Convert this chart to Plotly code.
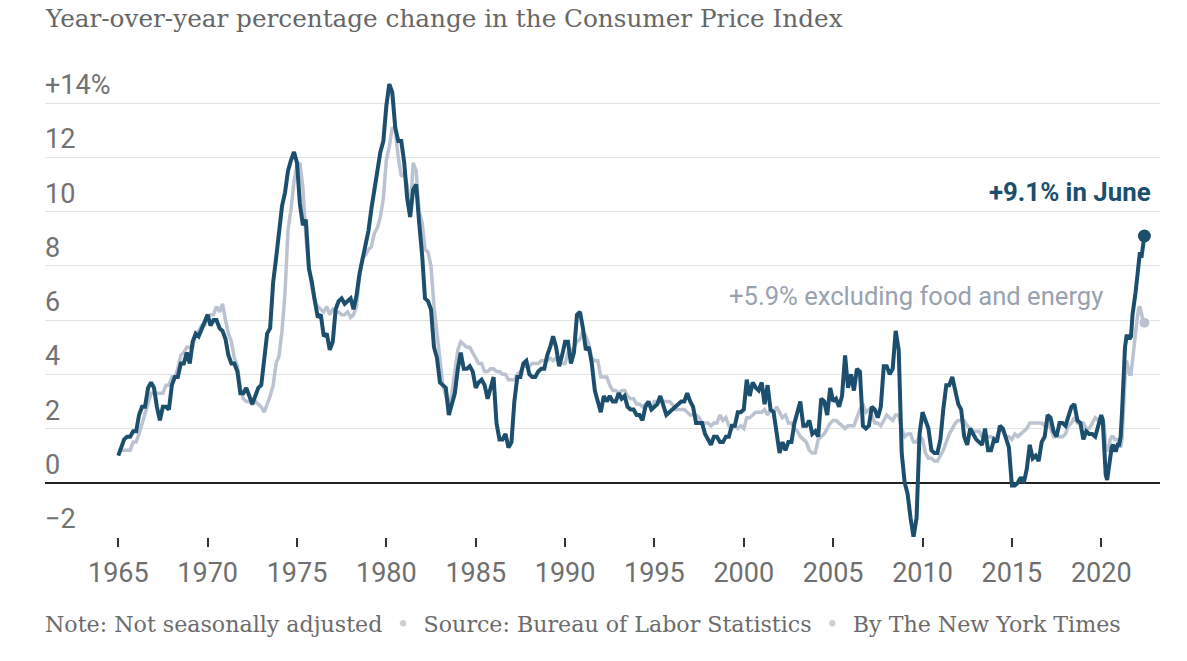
import plotly.graph_objects as go

# ---------------- data (year-over-year % change) ----------------
# 1965-2019: every other month (Jan, Mar, May, Jul, Sep, Nov); 2020-2022: monthly
years_bimonthly = list(range(1965, 2020))
months_bimonthly = [1, 3, 5, 7, 9, 11]

cpi_all_items = [
    1.0, 1.3, 1.6, 1.7, 1.7, 1.9,      # 1965
    1.9, 2.5, 2.8, 2.8, 3.5, 3.7,      # 1966
    3.5, 2.8, 2.3, 2.8, 2.8, 2.7,      # 1967
    3.6, 3.9, 3.9, 4.4, 4.4, 4.8,      # 1968
    4.4, 5.2, 5.5, 5.4, 5.7, 5.9,      # 1969
    6.2, 5.8, 6.0, 6.0, 5.7, 5.6,      # 1970
    5.3, 4.7, 4.4, 4.4, 4.1, 3.3,      # 1971
    3.3, 3.5, 3.2, 2.9, 3.2, 3.5,      # 1972
    3.6, 4.6, 5.5, 5.7, 7.4, 8.3,      # 1973
    9.4, 10.2, 10.7, 11.5, 11.9, 12.2, # 1974
    11.8, 10.3, 9.5, 9.7, 7.9, 7.4,    # 1975
    6.7, 6.1, 6.2, 5.4, 5.5, 4.9,      # 1976
    5.2, 6.4, 6.7, 6.8, 6.6, 6.7,      # 1977
    6.8, 6.4, 6.9, 7.7, 8.3, 8.9,      # 1978
    9.3, 10.1, 10.8, 11.3, 12.2, 12.6, # 1979
    13.9, 14.7, 14.4, 13.1, 12.6, 12.6,# 1980
    11.8, 10.5, 9.8, 10.8, 11.0, 9.6,  # 1981
    8.4, 6.8, 6.7, 6.4, 5.0, 4.6,      # 1982
    3.7, 3.6, 3.5, 2.5, 2.9, 3.3,      # 1983
    4.2, 4.8, 4.2, 4.2, 4.3, 4.1,      # 1984
    3.5, 3.7, 3.8, 3.6, 3.1, 3.5,      # 1985
    3.9, 2.2, 1.6, 1.6, 1.8, 1.3,      # 1986
    1.5, 3.0, 3.9, 3.9, 4.4, 4.5,      # 1987
    4.0, 3.9, 3.9, 4.1, 4.2, 4.2,      # 1988
    4.7, 5.0, 5.4, 5.0, 4.3, 4.7,      # 1989
    5.2, 5.2, 4.4, 4.8, 6.2, 6.3,      # 1990
    5.7, 4.9, 5.0, 4.4, 3.4, 3.0,      # 1991
    2.6, 3.2, 3.0, 3.2, 3.0, 3.0,      # 1992
    3.3, 3.1, 3.2, 2.8, 2.7, 2.7,      # 1993
    2.5, 2.5, 2.3, 2.8, 3.0, 2.7,      # 1994
    2.8, 2.9, 3.2, 2.8, 2.5, 2.6,      # 1995
    2.7, 2.8, 2.9, 3.0, 3.0, 3.3,      # 1996
    3.0, 2.8, 2.2, 2.2, 2.2, 1.8,      # 1997
    1.6, 1.4, 1.7, 1.7, 1.5, 1.5,      # 1998
    1.7, 1.7, 2.1, 2.1, 2.6, 2.6,      # 1999
    2.7, 3.8, 3.2, 3.7, 3.5, 3.4,      # 2000
    3.7, 2.9, 3.6, 2.7, 2.6, 1.9,      # 2001
    1.1, 1.5, 1.2, 1.5, 1.5, 2.2,      # 2002
    2.6, 3.0, 2.1, 2.1, 2.3, 1.8,      # 2003
    1.9, 1.7, 3.1, 3.0, 2.5, 3.5,      # 2004
    3.0, 3.1, 2.8, 3.2, 4.7, 3.5,      # 2005
    4.0, 3.4, 4.2, 4.1, 2.1, 2.0,      # 2006
    2.1, 2.8, 2.7, 2.4, 2.8, 4.3,      # 2007
    4.3, 4.0, 4.2, 5.6, 4.9, 1.1,      # 2008
    0.0, -0.4, -1.3, -2.0, -1.3, 1.8,  # 2009
    2.6, 2.3, 2.0, 1.2, 1.1, 1.1,      # 2010
    1.6, 2.7, 3.6, 3.6, 3.9, 3.4,      # 2011
    2.9, 2.7, 1.7, 1.4, 2.0, 1.8,      # 2012
    1.6, 1.5, 1.4, 2.0, 1.2, 1.2,      # 2013
    1.6, 1.5, 2.1, 2.0, 1.7, 1.3,      # 2014
    -0.1, -0.1, 0.0, 0.2, 0.0, 0.5,    # 2015
    1.4, 0.9, 1.0, 0.8, 1.5, 1.7,      # 2016
    2.5, 2.4, 1.9, 1.7, 2.2, 2.2,      # 2017
    2.1, 2.4, 2.8, 2.9, 2.3, 2.2,      # 2018
    1.6, 1.9, 1.8, 1.8, 1.7, 2.1,      # 2019
    # monthly from here
    2.5, 2.3, 1.5, 0.3, 0.1, 0.6, 1.0, 1.3, 1.4, 1.2, 1.2, 1.4,  # 2020
    1.4, 1.7, 2.6, 4.2, 5.0, 5.4, 5.4, 5.3, 5.4, 6.2, 6.8, 7.0,  # 2021
    7.5, 7.9, 8.5, 8.3, 8.6, 9.1,                                # 2022 (Jan-Jun)
]

cpi_core = [
    1.2, 1.2, 1.2, 1.2, 1.2, 1.5,      # 1965
    1.5, 1.8, 2.2, 2.6, 3.0, 3.3,      # 1966
    3.3, 3.3, 3.3, 3.3, 3.6, 3.6,      # 1967
    3.9, 3.9, 4.2, 4.7, 4.8, 5.0,      # 1968
    5.0, 5.0, 5.5, 5.6, 5.8, 5.8,      # 1969
    6.1, 6.2, 6.2, 6.5, 6.3, 6.6,      # 1970
    6.0, 5.5, 5.2, 4.6, 4.3, 3.5,      # 1971
    3.1, 3.0, 3.0, 2.9, 3.0, 2.9,      # 1972
    2.8, 2.6, 2.9, 3.2, 3.6, 4.4,      # 1973
    4.7, 5.6, 7.0, 9.3, 10.1, 11.1,    # 1974
    11.7, 11.8, 10.9, 9.1, 8.0, 7.2,   # 1975
    6.7, 6.5, 6.4, 6.3, 6.5, 6.2,      # 1976
    6.4, 6.3, 6.3, 6.2, 6.2, 6.3,      # 1977
    6.1, 6.2, 6.5, 7.6, 8.3, 8.4,      # 1978
    8.6, 8.7, 9.2, 9.4, 9.8, 10.5,     # 1979
    11.9, 12.4, 13.1, 13.0, 12.0, 11.3,# 1980
    11.4, 11.0, 9.8, 11.8, 11.5, 10.0, # 1981
    9.6, 8.6, 8.5, 8.0, 6.5, 5.5,      # 1982
    4.7, 3.6, 3.2, 2.8, 3.3, 4.2,      # 1983
    4.9, 5.2, 5.1, 5.0, 5.0, 4.8,      # 1984
    4.6, 4.4, 4.4, 4.1, 4.1, 4.2,      # 1985
    4.2, 4.1, 4.1, 4.0, 4.0, 3.8,      # 1986
    3.8, 3.8, 4.0, 4.1, 4.3, 4.3,      # 1987
    4.3, 4.4, 4.4, 4.4, 4.5, 4.5,      # 1988
    4.5, 4.6, 4.5, 4.6, 4.4, 4.4,      # 1989
    4.4, 4.8, 4.8, 5.0, 5.2, 5.3,      # 1990
    5.6, 5.4, 5.1, 4.6, 4.5, 4.5,      # 1991
    3.9, 3.9, 3.9, 3.6, 3.4, 3.4,      # 1992
    3.3, 3.4, 3.4, 3.2, 3.1, 3.1,      # 1993
    2.9, 2.9, 2.8, 2.9, 2.9, 2.7,      # 1994
    3.0, 3.0, 3.1, 3.0, 3.0, 3.0,      # 1995
    2.9, 2.7, 2.7, 2.7, 2.7, 2.6,      # 1996
    2.5, 2.5, 2.5, 2.4, 2.2, 2.2,      # 1997
    2.2, 2.1, 2.2, 2.2, 2.5, 2.3,      # 1998
    2.4, 2.1, 2.0, 2.1, 2.0, 2.1,      # 1999
    2.0, 2.4, 2.4, 2.5, 2.6, 2.6,      # 2000
    2.6, 2.7, 2.5, 2.7, 2.6, 2.8,      # 2001
    2.6, 2.4, 2.5, 2.2, 2.2, 2.0,      # 2002
    1.9, 1.7, 1.6, 1.5, 1.2, 1.1,      # 2003
    1.1, 1.6, 1.7, 1.8, 2.0, 2.2,      # 2004
    2.3, 2.3, 2.2, 2.1, 2.0, 2.1,      # 2005
    2.1, 2.1, 2.4, 2.7, 2.9, 2.6,      # 2006
    2.7, 2.5, 2.2, 2.2, 2.1, 2.3,      # 2007
    2.5, 2.4, 2.3, 2.5, 2.5, 2.0,      # 2008
    1.7, 1.8, 1.8, 1.5, 1.5, 1.7,      # 2009
    1.6, 1.1, 0.9, 0.9, 0.8, 0.8,      # 2010
    1.0, 1.2, 1.5, 1.8, 2.0, 2.2,      # 2011
    2.3, 2.3, 2.3, 2.1, 2.0, 1.9,      # 2012
    1.9, 1.9, 1.7, 1.7, 1.7, 1.7,      # 2013
    1.6, 1.7, 2.0, 1.9, 1.7, 1.7,      # 2014
    1.6, 1.8, 1.7, 1.8, 1.9, 2.0,      # 2015
    2.2, 2.2, 2.2, 2.2, 2.2, 2.1,      # 2016
    2.3, 2.0, 1.7, 1.7, 1.7, 1.7,      # 2017
    1.8, 2.1, 2.2, 2.4, 2.2, 2.2,      # 2018
    2.2, 2.0, 2.0, 2.2, 2.4, 2.3,      # 2019
    # monthly from here
    2.3, 2.4, 2.1, 1.4, 1.2, 1.2, 1.6, 1.7, 1.7, 1.6, 1.6, 1.6,  # 2020
    1.4, 1.3, 1.6, 3.0, 3.8, 4.5, 4.3, 4.0, 4.0, 4.6, 4.9, 5.5,  # 2021
    6.0, 6.4, 6.5, 6.2, 6.0, 5.9,                                # 2022 (Jan-Jun)
]

dates = ([f"{y}-{m:02d}-01" for y in years_bimonthly for m in months_bimonthly]
         + [f"{y}-{m:02d}-01" for y in (2020, 2021) for m in range(1, 13)]
         + [f"2022-{m:02d}-01" for m in range(1, 7)])

x_tick_years = [1965, 1970, 1975, 1980, 1985, 1990, 1995, 2000, 2005, 2010, 2015, 2020]
y_tick_values = [-2, 0, 2, 4, 6, 8, 10, 12, 14]
y_tick_labels = ["\u22122", "0", "2", "4", "6", "8", "10", "12", "+14%"]

title_text = "Year-over-year percentage change in the Consumer Price Index"
label_all = "+9.1% in June"
label_core = "+5.9% excluding food and energy"

# ---------------- styling ----------------
DARK = "#1b4f6d"
LIGHT = "#bac3cf"
GRAY_TXT = "#727272"
SANS = "Roboto, 'Open Sans', sans-serif"
SERIF = "'DejaVu Serif', 'Liberation Serif', serif"

W, H = 1187, 661
L, T = 45, 76
PW, PH = 1115, 461
R, B = W - L - PW, H - T - PH


def px(x):
    """screen x pixel -> paper coordinate"""
    return (x - L) / PW


def py(y):
    """screen y pixel -> paper coordinate"""
    return (T + PH - y) / PH


fig = go.Figure()

fig.add_trace(go.Scatter(x=dates, y=cpi_core, mode="lines",
                         line=dict(color=LIGHT, width=3.5), hoverinfo="skip",
                         showlegend=False))
fig.add_trace(go.Scatter(x=[dates[-1]], y=[cpi_core[-1]], mode="markers",
                         marker=dict(color=LIGHT, size=10), showlegend=False))
fig.add_trace(go.Scatter(x=dates, y=cpi_all_items, mode="lines",
                         line=dict(color=DARK, width=4), hoverinfo="skip",
                         showlegend=False))
fig.add_trace(go.Scatter(x=[dates[-1]], y=[cpi_all_items[-1]], mode="markers",
                         marker=dict(color=DARK, size=13), showlegend=False))

annotations = []
for v, t in zip(y_tick_values, y_tick_labels):
    annotations.append(dict(x=0, xref="paper", y=v, yref="y", text=t,
                            showarrow=False, xanchor="left", yanchor="middle",
                            xshift=-2, yshift=18,
                            font=dict(family=SANS, size=27, color=GRAY_TXT)))

annotations.append(dict(x=px(45), y=py(19), xref="paper", yref="paper",
                        text=title_text, showarrow=False, xanchor="left", yanchor="middle",
                        xshift=-2,
                        font=dict(family=SERIF, size=24.7, color="#666666")))
annotations.append(dict(x=px(1153), y=py(192), xref="paper", yref="paper",
                        text=f"<b>{label_all}</b>", showarrow=False, xanchor="right",
                        yanchor="middle", font=dict(family=SANS, size=25.8, color=DARK)))
annotations.append(dict(x=px(1105), y=py(296), xref="paper", yref="paper",
                        text=label_core, showarrow=False, xanchor="right",
                        yanchor="middle", font=dict(family=SANS, size=25.6, color="#98a2ae")))

dot = "<span style='color:#d0d0d0'>\u2022</span>"
footer = (f"Note: Not seasonally adjusted  {dot}  Source: Bureau of Labor Statistics"
          f"  {dot}  By The New York Times")
annotations.append(dict(x=px(45), y=py(624), xref="paper", yref="paper",
                        text=footer, showarrow=False, xanchor="left", yanchor="middle",
                        xshift=-2,
                        font=dict(family=SERIF, size=22.15, color="#6b6b6b")))

fig.update_layout(
    width=W, height=H,
    margin=dict(l=L, r=R, t=T, b=B),
    paper_bgcolor="white", plot_bgcolor="white",
    annotations=annotations,
    hovermode=False,
    xaxis=dict(type="date", range=["1960-11-25", "2023-04-16"],
               tickvals=[f"{y}-01-01" for y in x_tick_years],
               ticktext=[str(y) for y in x_tick_years],
               ticks="outside", ticklen=9, tickwidth=1.5, tickcolor="#333333",
               ticklabelstandoff=3,
               tickfont=dict(family=SANS, size=27, color="#6f6f6f"),
               showgrid=False, zeroline=False, showline=False),
    yaxis=dict(range=[-2, 15], tickvals=y_tick_values, showticklabels=False,
               ticks="", showgrid=True, gridcolor="#e3e3e3", gridwidth=1,
               zeroline=True, zerolinecolor="#222222", zerolinewidth=1.5,
               showline=False),
)

# remove the browser's default 8px page margin so the figure fills the window
fig.write_html("out.html",
               config={"displayModeBar": False},
               post_script="document.body.style.margin='0px';document.body.style.overflow='hidden';")
